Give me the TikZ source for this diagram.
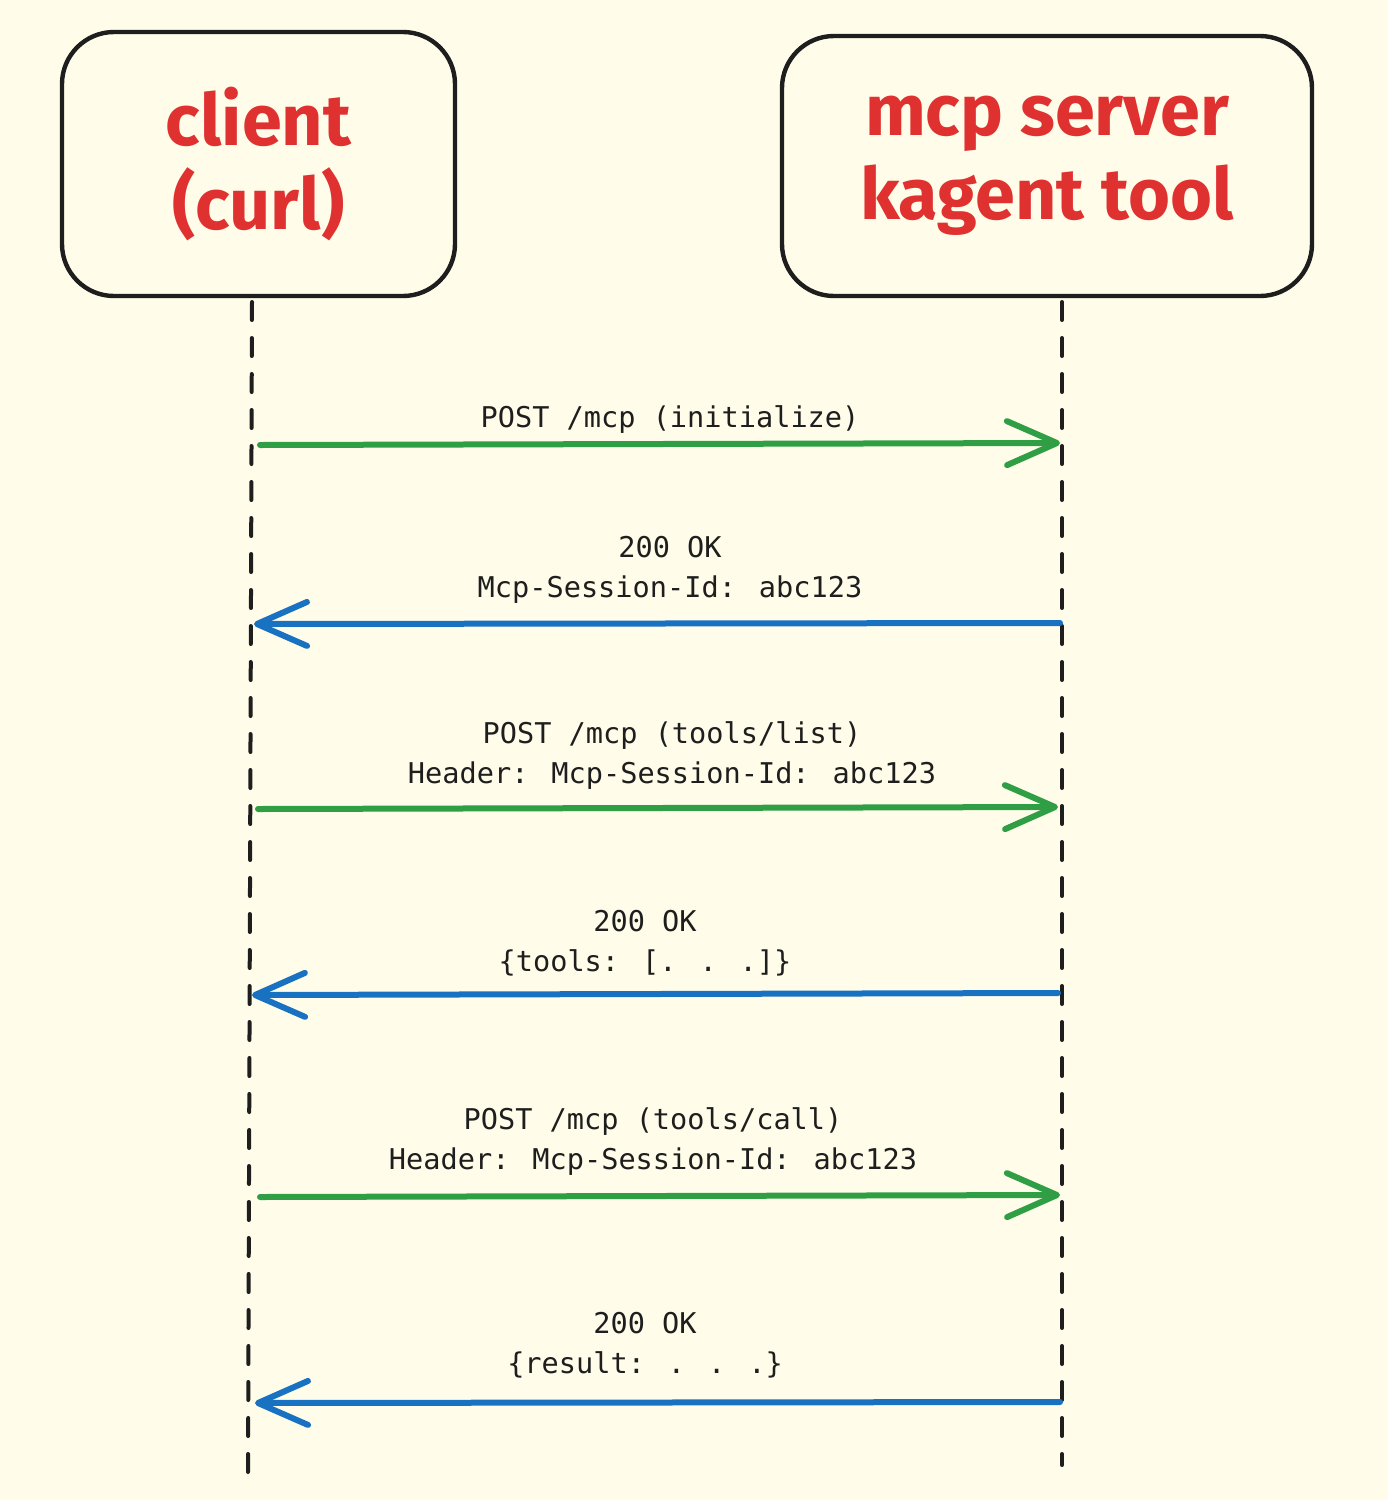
\documentclass[tikz,border=0pt]{standalone}
\usepackage{fontspec}
\setmainfont{Fira Sans}
\newfontfamily\monof{DejaVu Sans Mono}
\usetikzlibrary{arrows.meta}
\definecolor{bgc}{HTML}{FFFDE9}
\definecolor{inkc}{HTML}{1E1E1E}
\definecolor{redc}{HTML}{E03131}
\definecolor{greenc}{HTML}{2F9E44}
\definecolor{bluec}{HTML}{1971C2}
\tikzset{
  actor/.style={draw=inkc, line width=2.2pt, rounded corners=26pt, fill=bgc,
    text=redc, align=center, font=\bfseries\fontsize{36}{42}\selectfont},
  lifeline/.style={draw=inkc, line width=2pt, line cap=round, dash pattern=on 9pt off 9pt},
  req/.style={draw=greenc, line width=3pt, line cap=round,
    -{Straight Barb[length=25pt,width=22pt,line width=3pt,round]}},
  resp/.style={draw=bluec, line width=3pt, line cap=round,
    -{Straight Barb[length=25pt,width=22pt,line width=3pt,round]}},
  msg/.style={text=inkc, align=center, font=\monof\fontsize{14.3}{20}\selectfont, inner sep=0pt}
}
\begin{document}
\begin{tikzpicture}[x=0.5pt,y=-0.5pt]
\fill[bgc] (0,0) rectangle (1388,1500);
\useasboundingbox (0,0) rectangle (1388,1500);

\node[actor, minimum width=196.5pt, minimum height=132pt] (client) at (258.5,164) {client\\(curl)};
\node[actor, minimum width=265pt, minimum height=130pt] (server) at (1047,166) {mcp server\\kagent tool};

\coordinate (cTop) at (252,302);
\coordinate (cEnd) at (248,1473);
\coordinate (sTop) at (1062,302);
\coordinate (sEnd) at (1062,1465);
\draw[lifeline] (cTop) -- (cEnd);
\draw[lifeline] (sTop) -- (sEnd);

% message endpoints
\coordinate (c1) at (260,445);  \coordinate (s1) at (1060,443);
\coordinate (s2) at (1060,623); \coordinate (c2) at (254,624);
\coordinate (c3) at (258,809);  \coordinate (s3) at (1058,807);
\coordinate (s4) at (1058,993); \coordinate (c4) at (252,995);
\coordinate (c5) at (260,1197); \coordinate (s5) at (1060,1195);
\coordinate (s6) at (1060,1402); \coordinate (c6) at (255,1403);

\draw[req] (c1) -- (s1);
\draw[resp] (s2) -- (c2);
\draw[req] (c3) -- (s3);
\draw[resp] (s4) -- (c4);
\draw[req] (c5) -- (s5);
\draw[resp] (s6) -- (c6);

\node[msg] (l1) at (670,420) {POST /mcp (initialize)};
\node[msg] (l2) at (670,570) {200 OK\\Mcp-Session-Id: abc123};
\node[msg] (l3) at (672,756) {POST /mcp (tools/list)\\Header: Mcp-Session-Id: abc123};
\node[msg] (l4) at (645,943) {200 OK\\\{tools: [. . .]\}};
\node[msg] (l5) at (653,1142) {POST /mcp (tools/call)\\Header: Mcp-Session-Id: abc123};
\node[msg] (l6) at (645,1345) {200 OK\\\{result: . . .\}};
\end{tikzpicture}
\end{document}
